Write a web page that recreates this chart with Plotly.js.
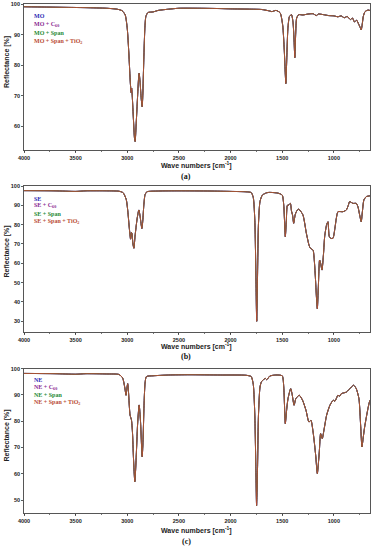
<!DOCTYPE html>
<html>
<head>
<meta charset="utf-8">
<script src="https://cdn.plot.ly/plotly-3.0.1.min.js"></script>
<style>html,body{margin:0;padding:0;background:#fff;}#chart{width:372px;height:550px;}</style>
</head>
<body>
<div id="chart"></div>
<script>
// Panel (a) MO
const waveA = [4000,3800,3600,3400,3200,3100,3050,3020,3000,2985,2970,2962,2958,2952,2940,2930,2924,2915,2900,2890,2885,2875,2865,2856,2850,2840,2830,2820,2800,2750,2700,2600,2500,2300,2100,2000,1800,1700,1620,1600,1560,1520,1495,1480,1470,1465,1458,1445,1430,1410,1395,1385,1378,1370,1360,1340,1300,1250,1200,1170,1150,1100,1050,1000,960,930,900,870,840,820,800,780,760,745,735,725,715,700,680,660,650];
const reflA = [99.2,99.1,99.0,98.9,98.7,98.4,97.9,96.5,92,84,74,71,72.5,70,62,56,55,60,70,76,77.4,74,69,66.4,70,82,92,96,97.3,97.5,98,98.4,98.7,98.7,98.6,98.5,98.4,98.3,97.8,97.6,98,97.2,93,85,77,74,80,92,96,96.6,94,88,82.5,90,95.5,96.6,96.5,96.8,96.9,96.3,96.8,96.6,96.3,96.2,95.9,96.2,95.6,96,95,95.5,94.2,94.8,93.5,92.4,91.6,93.5,96,97.5,98,98.1,97.9];
// Panel (b) SE
const waveB = [4000,3700,3500,3400,3200,3080,3040,3010,2995,2980,2968,2960,2955,2945,2936,2925,2905,2888,2875,2859,2850,2840,2828,2810,2700,2500,2200,2000,1850,1800,1780,1765,1755,1747,1740,1730,1715,1692,1650,1621,1540,1500,1485,1470,1460,1450,1437,1421,1410,1400,1389,1375,1363,1345,1331,1299,1266,1241,1228,1202,1190,1179,1168,1160,1150,1138,1128,1115,1100,1089,1070,1057,1045,1030,1009,990,976,960,912,879,860,847,815,783,767,750,735,725,709,686,654,650];
const reflB = [97.6,97.5,97.2,97.5,97.5,97.3,96.5,93,87,78,72.5,76,75.5,70,67.8,74,83,87.6,84,78,82,90,95.5,97,97.4,97.5,97.4,97.2,97.0,96.6,94,82,55,30,50,80,92,95.3,96.5,96.7,96.3,95.3,90,73.8,82,90,90.2,91,87,85,80.7,85,86.7,88,87.6,85,75.5,69.5,67.8,66.9,62,53,42,36.5,48,61.7,60,56.5,65,73.8,80,81.5,74,72.9,72.9,78,83.3,86.7,86.7,87.6,90,91.9,91,91,89.3,85,81.5,86,92.8,94.5,94.9,95];
// Panel (c) NE
const waveC = [4000,3700,3500,3400,3200,3080,3045,3025,3012,3004,2996,2988,2973,2960,2950,2940,2927,2915,2900,2885,2872,2856,2848,2838,2828,2815,2750,2600,2400,2100,1850,1800,1780,1765,1755,1748,1740,1730,1715,1700,1663,1650,1620,1563,1500,1485,1470,1458,1444,1418,1405,1385,1368,1335,1303,1270,1241,1222,1199,1176,1160,1141,1128,1112,1096,1070,1038,1006,990,960,944,928,879,831,808,783,757,740,728,715,702,670,654,650];
const reflC = [98.2,98.1,97.9,98.1,98.0,97.8,96.5,93,89.9,92.5,94.3,91,82.3,80.6,76,66,57,65,79,86.2,80,66.5,72,86,94.5,97,97.3,97.6,97.7,97.6,97.5,97.0,94,82,62,47.9,60,82,93,95.1,96.3,95.8,97.2,97.6,97.3,93,79.1,84,88.6,92.4,90.5,86.1,88.6,89.9,88,84.2,79.7,80.4,75.3,67.1,60.1,68.3,75.3,73.4,76.6,82.3,86.1,88,87.6,89.9,89.5,90.5,91.1,93,93.7,92.4,88.6,78,70.2,74,77.8,84.8,87.6,88];

const seriesSuffix = ["", " + C<sub>60</sub>", " + Span", " + Span + TiO<sub>2</sub>"];
const panelNames = ["MO", "SE", "NE"];
const panelLetters = ["(a)", "(b)", "(c)"];
const waves = [waveA, waveB, waveC];
const refls = [reflA, reflB, reflC];
const yRanges = [[52.2, 100], [24.6, 100], [45.2, 100]];
const yTicks = [[60,70,80,90,100],[30,40,50,60,70,80,90,100],[50,60,70,80,90,100]];

const colors = ["#2b2bb5", "#8a2a92", "#238a34", "#b94a34"];
const widths = [1, 1, 1, 0.9];

// pixel layout (paper coords, height 550, margins l=24 r=2)
const H = 550, W = 372, L = 24, R = 2;
const panelPx = [[4.3, 150], [186, 331.7], [368.7, 512.7]];
const legendPx = [[16, 24.5, 33, 41.5], [199, 206, 214, 221.7], [380, 387, 394.7, 402.3]];
const yTitlePx = [62.5, 252, 436];
const xTitlePx = [165, 346.5, 530];
const letterPx = [176.5, 356, 541.5];

const traces = [];
const annotations = [];
const layout = {
  width: W, height: H,
  margin: {l: L, r: R, t: 0, b: 0},
  paper_bgcolor: "#fff", plot_bgcolor: "#fff",
  showlegend: false,
  font: {family: "Liberation Sans, Arial, sans-serif", size: 6, color: "#222"},
  annotations: annotations
};
const toY = py => 1 - py / H;
const toX = px => (px - L) / (W - L - R);

for (let p = 0; p < 3; p++) {
  const sfx = p === 0 ? "" : String(p + 1);
  for (let s = 0; s < 4; s++) {
    traces.push({
      x: waves[p], y: refls[p], type: "scatter", mode: "lines",
      name: panelNames[p] + seriesSuffix[s],
      xaxis: "x" + sfx, yaxis: "y" + sfx,
      line: {color: colors[s], width: widths[s], shape: "spline", smoothing: 0.6},
      hoverinfo: "skip"
    });
  }
  const [top, bot] = panelPx[p];
  layout["xaxis" + sfx] = {
    domain: [0, 1], anchor: "y" + sfx, range: [4000, 650],
    tickvals: [4000,3500,3000,2500,2000,1500,1000],
    ticks: "outside", ticklen: 2.5, tickwidth: 0.8, tickcolor: "#333",
    minor: {dtick: 250, tick0: 0, ticks: "outside", ticklen: 1.5, tickcolor: "#555"},
    tickfont: {size: 5.5, weight: "bold", color: "#222"},
    showline: true, mirror: true, linecolor: "#444", linewidth: 0.9,
    showgrid: false, zeroline: false, automargin: false
  };
  layout["yaxis" + sfx] = {
    domain: [toY(bot), toY(top)], anchor: "x" + sfx, range: yRanges[p],
    tickvals: yTicks[p],
    ticks: "outside", ticklen: 2, tickwidth: 0.8, tickcolor: "#333",
    tickfont: {size: 5.5, weight: "bold", color: "#222"},
    showline: true, mirror: true, linecolor: "#444", linewidth: 0.9,
    showgrid: false, zeroline: false, automargin: false
  };
  for (let s = 0; s < 4; s++) {
    annotations.push({
      xref: "paper", yref: "paper", x: toX(31.5), y: toY(legendPx[p][s]),
      xanchor: "left", yanchor: "middle", showarrow: false,
      text: panelNames[p] + seriesSuffix[s],
      font: {family: "Liberation Serif, Times New Roman, serif", size: 6, weight: "bold", color: colors[s]}
    });
  }
  annotations.push({
    xref: "paper", yref: "paper", x: toX(6.5), y: toY(yTitlePx[p]),
    xanchor: "center", yanchor: "middle", showarrow: false, textangle: -90,
    text: "Reflectance [%]",
    font: {family: "Liberation Sans, Arial, sans-serif", size: 7, weight: "bold", color: "#222"}
  });
  annotations.push({
    xref: "paper", yref: "paper", x: toX(196), y: toY(xTitlePx[p]),
    xanchor: "center", yanchor: "middle", showarrow: false,
    text: "Wave numbers [cm<sup>-1</sup>]",
    font: {family: "Liberation Sans, Arial, sans-serif", size: 7, weight: "bold", color: "#222"}
  });
  annotations.push({
    xref: "paper", yref: "paper", x: toX(186), y: toY(letterPx[p]),
    xanchor: "center", yanchor: "middle", showarrow: false,
    text: panelLetters[p],
    font: {family: "Liberation Serif, Times New Roman, serif", size: 8, weight: "bold", color: "#111"}
  });
}

Plotly.newPlot("chart", traces, layout, {staticPlot: true, displayModeBar: false});
</script>
</body>
</html>
